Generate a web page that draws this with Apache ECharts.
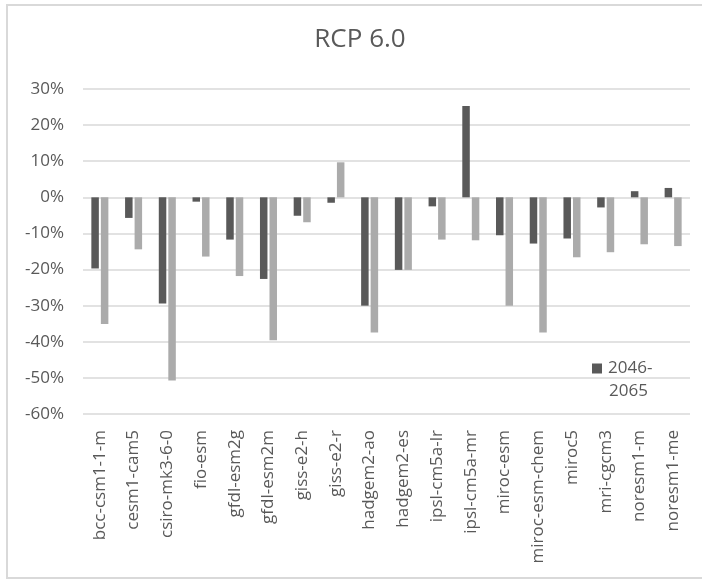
<!DOCTYPE html>
<html>
<head>
<meta charset="utf-8">
<script src="https://cdn.jsdelivr.net/npm/echarts@6/dist/echarts.min.js"></script>
<style>html,body{margin:0;padding:0;background:#fff;}#c{width:702px;height:580px;}</style>
</head>
<body>
<div id="c"></div>
<script>
var categories = ['bcc-csm1-1-m','cesm1-cam5','csiro-mk3-6-0','fio-esm','gfdl-esm2g','gfdl-esm2m','giss-e2-h','giss-e2-r','hadgem2-ao','hadgem2-es','ipsl-cm5a-lr','ipsl-cm5a-mr','miroc-esm','miroc-esm-chem','miroc5','mri-cgcm3','noresm1-m','noresm1-me'];
var series2046 = [-19.7,-5.7,-29.4,-1.2,-11.7,-22.6,-5.1,-1.5,-30.0,-20.1,-2.5,25.3,-10.5,-12.8,-11.4,-2.8,1.7,2.6];
var series2081 = [-35.1,-14.4,-50.7,-16.4,-21.8,-39.6,-6.9,9.7,-37.4,-20.1,-11.7,-11.9,-30.0,-37.4,-16.6,-15.2,-13.0,-13.5];
var yTicks = [-60,-50,-40,-30,-20,-10,0,10,20,30];

var font = '"Open Sans", "DejaVu Sans", sans-serif';
var chart = echarts.init(document.getElementById('c'), null, {renderer:'canvas'});
chart.setOption({
  animation: false,
  backgroundColor: '#ffffff',
  title: {
    text: 'RCP 6.0',
    left: 360, top: 27, padding: 0,
    textAlign: 'center',
    textStyle: {fontFamily: font, fontSize: 26, fontWeight: 'normal', color: '#595959'}
  },
  legend: {
    data: ['2046-2065'],
    left: 592, top: 360, padding: 0,
    icon: 'rect',
    itemWidth: 10, itemHeight: 10, itemGap: 6,
    formatter: function(n){ return '2046-'; },
    textStyle: {fontFamily: font, fontSize: 17, color: '#595959', padding: [0,0,0,1]}
  },
  grid: {left: 83, right: 12, top: 89, bottom: 166, containLabel: false},
  xAxis: {
    type: 'category',
    data: categories,
    axisLine: {show: false},
    axisTick: {show: false},
    axisLabel: {rotate: 90, interval: 0, margin: 16, fontFamily: font, fontSize: 17, color: '#595959'}
  },
  yAxis: {
    type: 'value',
    min: yTicks[0], max: yTicks[yTicks.length-1], interval: 10,
    axisLine: {show: false},
    axisTick: {show: false},
    splitLine: {lineStyle: {color: '#d9d9d9', width: 1.5}},
    axisLabel: {formatter: '{value}%', margin: 19, fontFamily: font, fontSize: 17, color: '#595959'}
  },
  series: [
    {name: '2046-2065', type: 'bar', data: series2046, barWidth: 7.5, barGap: '27%', itemStyle: {color: '#595959'}},
    {name: '2081-2100', type: 'bar', data: series2081, barWidth: 7.5, barGap: '27%', itemStyle: {color: '#ababab'}}
  ],
  graphic: [
    {type: 'rect', shape: {x: 7, y: 5, width: 700, height: 573}, style: {fill: 'none', stroke: '#d9d9d9', lineWidth: 2}, silent: true, z: -1},
    {type: 'text', x: 609, y: 391, style: {text: '2065', fontFamily: font, fontSize: 17, fill: '#595959', textVerticalAlign: 'middle', verticalAlign: 'middle'}}
  ]
});
</script>
</body>
</html>
